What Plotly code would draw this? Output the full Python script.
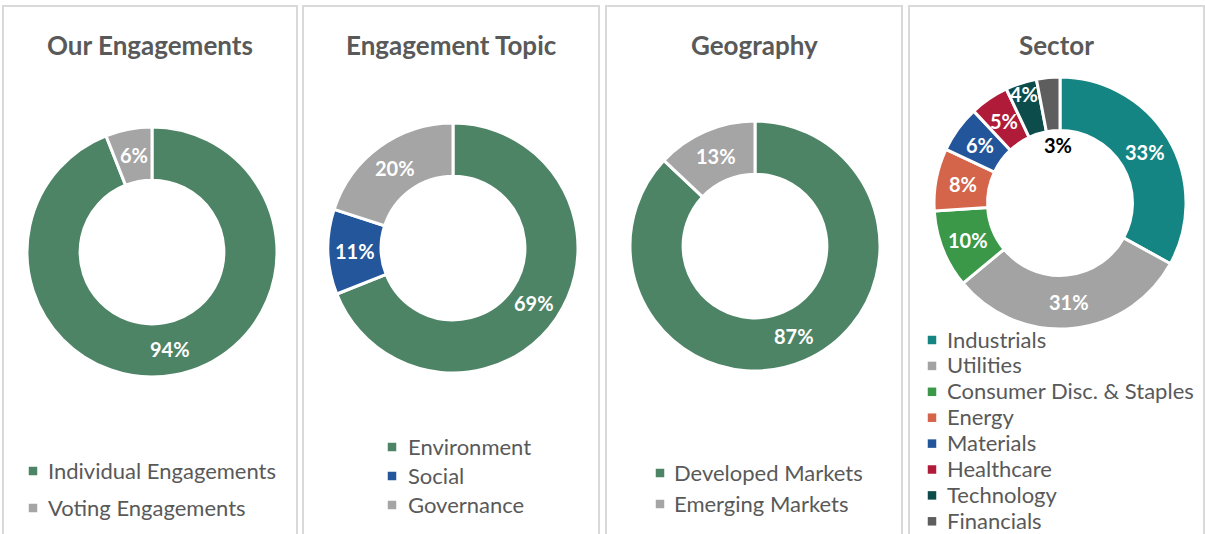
import math
import plotly.graph_objects as go

W, H = 1205, 534

# ---------------- data ----------------
titles = ["Our Engagements", "Engagement Topic", "Geography", "Sector"]

eng_labels = ["Individual Engagements", "Voting Engagements"]
eng_values = [94, 6]

topic_labels = ["Environment", "Social", "Governance"]
topic_values = [69, 11, 20]

geo_labels = ["Developed Markets", "Emerging Markets"]
geo_values = [87, 13]

sector_labels = ["Industrials", "Utilities", "Consumer Disc. & Staples", "Energy",
                 "Materials", "Healthcare", "Technology", "Financials"]
sector_values = [33, 31, 10, 8, 6, 5, 4, 3]

# ---------------- styles ----------------
GREEN = "#4E8466"
GRAY = "#A5A5A5"
BLUE = "#23569B"
eng_colors = [GREEN, GRAY]
topic_colors = [GREEN, BLUE, GRAY]
geo_colors = [GREEN, GRAY]
sector_colors = ["#148582", "#A3A3A3", "#3A9848", "#D4644A",
                 "#23559B", "#B01B3A", "#0C4D4C", "#5E5E5E"]

FONT = "Lato, 'Open Sans', sans-serif"
TXT = "#595959"

# layout geometry (pixels)
panels_x = [(3, 297), (303, 599), (606, 902), (909, 1204)]
centers = [(152, 252), (453, 248), (755, 246), (1060, 203)]
radii = [125, 125, 125, 126]
HOLE = 0.575
# legend: (marker centre x, text start x, first row y, row step)
legend_geom = [(33, 46, 470, 37), (392, 406, 446, 29), (660, 672, 472, 31), (932, 945, 339, 25.9)]
MARK = 8.5

datasets = [
    (eng_labels, eng_values, eng_colors),
    (topic_labels, topic_values, topic_colors),
    (geo_labels, geo_values, geo_colors),
    (sector_labels, sector_values, sector_colors),
]

# per-label radial tweaks (fraction of mid-ring radius), like manual Excel label moves
label_radius = {(3, 6): 1.16, (3, 7): 0.59}
label_dx = {(3, 7): 4}
label_color = {(3, 7): "#000000"}


def px_x(x):
    return x / W


def px_y(y):
    return 1 - y / H


fig = go.Figure()
annotations = []
shapes = []

for i, ((labels, values, colors), (cx, cy), r) in enumerate(zip(datasets, centers, radii)):
    fig.add_trace(go.Pie(
        labels=labels, values=values, sort=False, direction="clockwise", rotation=0,
        hole=HOLE, textinfo="none", hoverinfo="label+percent",
        marker=dict(colors=colors, line=dict(color="white", width=3)),
        domain=dict(x=[px_x(cx - r), px_x(cx + r)], y=[px_y(cy + r), px_y(cy - r)]),
        showlegend=False,
    ))
    # data labels at mid-ring
    total = sum(values)
    cum = 0
    rmid = r * (1 + HOLE) / 2
    for j, v in enumerate(values):
        mid = (cum + v / 2) / total * 2 * math.pi
        cum += v
        rr = rmid * label_radius.get((i, j), 1.0)
        x = cx + rr * math.sin(mid) + label_dx.get((i, j), 0)
        y = cy - rr * math.cos(mid)
        annotations.append(dict(
            x=px_x(x), y=px_y(y), xref="paper", yref="paper", showarrow=False,
            text=f"<b>{round(v / total * 100)}%</b>",
            font=dict(family=FONT, size=20, color=label_color.get((i, j), "white")),
            xanchor="center", yanchor="middle",
        ))
    # legend (one per panel)
    mx, tx, ly0, step = legend_geom[i]
    for j, (lab, col) in enumerate(zip(labels, colors)):
        yy = ly0 + j * step
        shapes.append(dict(type="rect", xref="paper", yref="paper",
                           x0=px_x(mx - MARK / 2), x1=px_x(mx + MARK / 2),
                           y0=px_y(yy + 1 + MARK / 2), y1=px_y(yy + 1 - MARK / 2),
                           line=dict(width=0), fillcolor=col))
        annotations.append(dict(
            x=px_x(tx), y=px_y(yy), xref="paper", yref="paper", showarrow=False,
            text=lab, font=dict(family=FONT, size=22, color=TXT),
            xanchor="left", yanchor="middle",
        ))
    # title
    x0, x1 = panels_x[i]
    annotations.append(dict(
        x=px_x((x0 + x1) / 2), y=px_y(45), xref="paper", yref="paper", showarrow=False,
        text=f"<b>{titles[i]}</b>", font=dict(family=FONT, size=26, color=TXT),
        xanchor="center", yanchor="middle",
    ))
    shapes.append(dict(type="rect", xref="paper", yref="paper",
                       x0=px_x(x0), x1=px_x(x1), y0=px_y(H + 10), y1=px_y(6),
                       line=dict(color="#D9D9D9", width=2), fillcolor="rgba(0,0,0,0)"))

fig.update_layout(
    width=W, height=H, autosize=False, margin=dict(l=0, r=0, t=0, b=0),
    paper_bgcolor="white", plot_bgcolor="white", showlegend=False,
    annotations=annotations, shapes=shapes,
)

fig.write_html(
    "out.html",
    config={"responsive": False, "displayModeBar": False},
    post_script="document.body.style.margin='0';document.body.style.overflow='hidden';",
)
